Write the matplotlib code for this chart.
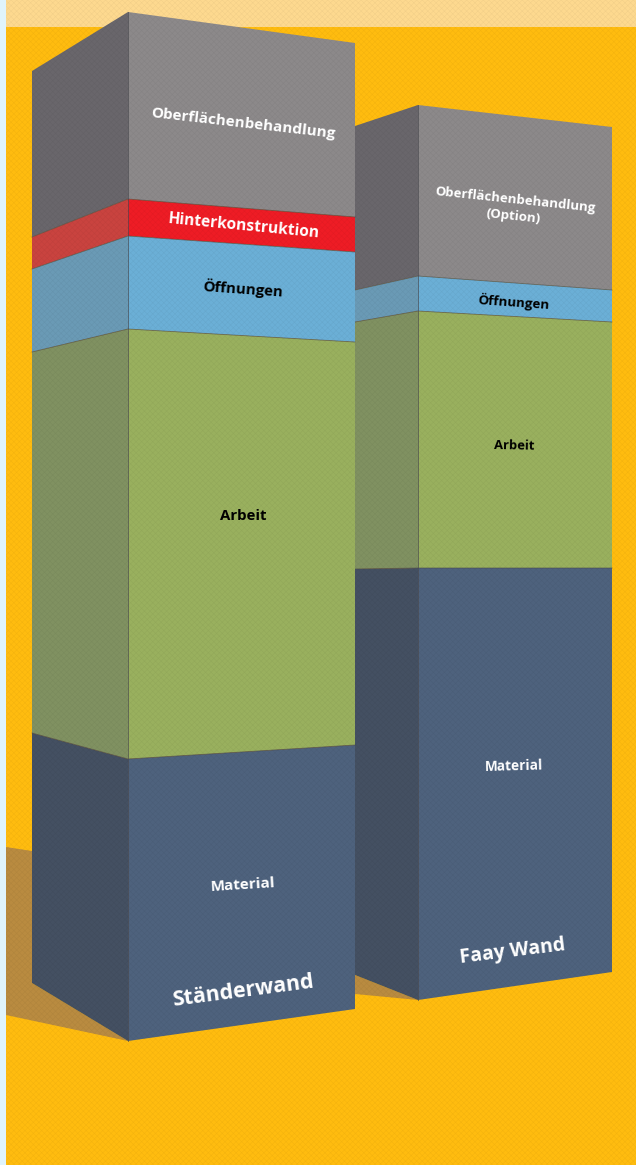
import matplotlib
matplotlib.use("Agg")
import matplotlib.pyplot as plt
from matplotlib.patches import Polygon, Rectangle

# --- Data: layer boundaries, top to bottom ---
staender_layers = ["Oberflächenbehandlung", "Hinterkonstruktion", "Öffnungen", "Arbeit", "Material"]
staender_left = [71, 237, 269, 352, 733, 983]
staender_corner = [12, 199, 236, 329, 759, 1041]
staender_right = [43, 217, 252, 342, 745, 1009]

faay_layers = ["Oberflächenbehandlung", "Öffnungen", "Arbeit", "Material"]
faay_left = [126, 290, 322, 569, 975]
faay_corner = [105, 276, 311, 568, 1000]
faay_right = [127, 290, 322, 568, 972]

# --- Styles ---
front_colors = {
    "Oberflächenbehandlung": "#8C898A",
    "Hinterkonstruktion": "#EE1C25",
    "Öffnungen": "#6BAFD6",
    "Arbeit": "#99B05E",
    "Material": "#4E627D",
}
side_colors = {
    "Oberflächenbehandlung": "#69666B",
    "Hinterkonstruktion": "#C9433F",
    "Öffnungen": "#6A9AB5",
    "Arbeit": "#809161",
    "Material": "#445062",
}
EDGE = "#4A4A50"

plt.rcParams["font.family"] = ["Open Sans", "DejaVu Sans"]
plt.rcParams["hatch.linewidth"] = 0.4

fig = plt.figure(figsize=(6.36, 11.65), dpi=100, facecolor="#FFBC0F")
ax = fig.add_axes([0, 0, 1, 1])
ax.set_xlim(0, 636)
ax.set_ylim(1165, 0)
ax.axis("off")

# --- Background ---
ax.add_patch(Rectangle((0, 0), 636, 1165, fc="#FFBC0F", ec="none", zorder=0))
ax.add_patch(Rectangle((0, 0), 636, 27, fc="#FDD98F", ec="none", zorder=1))

# --- Shadows ---
ax.add_patch(Polygon([(6, 847), (32, 851), (32, 983), (128, 1041), (6, 1015)],
                     fc="#B98B40", ec="none", zorder=3))
ax.add_patch(Polygon([(355, 975), (418, 1000), (355, 994)],
                     fc="#B98B40", ec="none", zorder=3))


def draw_tower(x_left, x_corner, x_right, left, corner, right, layers, z):
    for i, name in enumerate(layers):
        side = [(x_left, left[i]), (x_corner, corner[i]), (x_corner, corner[i + 1]), (x_left, left[i + 1])]
        front = [(x_corner, corner[i]), (x_right, right[i]), (x_right, right[i + 1]), (x_corner, corner[i + 1])]
        ax.add_patch(Polygon(side, fc=side_colors[name], ec="none", zorder=z))
        ax.add_patch(Polygon(front, fc=front_colors[name], ec="none", zorder=z))
    # layer edges and corner line
    for i in range(1, len(layers)):
        ax.plot([x_left, x_corner, x_right], [left[i], corner[i], right[i]],
                color=EDGE, lw=0.6, alpha=0.7, zorder=z + 0.5)
    ax.plot([x_corner, x_corner], [corner[0], corner[-1]], color=EDGE, lw=0.7, alpha=0.7, zorder=z + 0.5)


# Faay wall sits behind the Staender wall
draw_tower(355, 418, 612, faay_left, faay_corner, faay_right, faay_layers, 4)
draw_tower(32, 128, 355, staender_left, staender_corner, staender_right, staender_layers, 6)

# fine print-like dot screen over everything
ax.add_patch(Rectangle((0, 0), 636, 1165, fc="none", ec=(0, 0, 0, 0.045), lw=0, hatch="xxxxxx", zorder=8))
ax.add_patch(Rectangle((0, 0), 6, 1165, fc="#E0F4FC", ec="none", zorder=9))

# --- Labels ---
labels = [
    ("Oberflächenbehandlung", 243.5, 124, -6.5, 11.0, "white"),
    ("Hinterkonstruktion", 243.5, 226, -5.5, 11.2, "white"),
    ("Öffnungen", 243, 289, -4, 10.8, "black"),
    ("Arbeit", 243, 516, 0, 10.8, "black"),
    ("Material", 243, 885, 3.5, 11.0, "white"),
    ("Ständerwand", 243, 991, 7.5, 15.4, "white"),
    ("Oberflächenbehandlung\n(Option)", 514, 208, -6, 9.5, "white"),
    ("Öffnungen", 514, 302, -4, 9.6, "black"),
    ("Arbeit", 514, 446, -1, 9.4, "black"),
    ("Material", 514, 766, 1.5, 9.8, "white"),
    ("Faay Wand", 513, 952, 7, 14, "white"),
]
for text, x, y, angle, size, color in labels:
    ax.text(x, y, text, rotation=angle, rotation_mode="anchor", ha="center", va="center",
            fontsize=size, fontweight="bold", color=color, zorder=10, linespacing=1.3)

fig.savefig("out.png", dpi=100, facecolor=fig.get_facecolor())
